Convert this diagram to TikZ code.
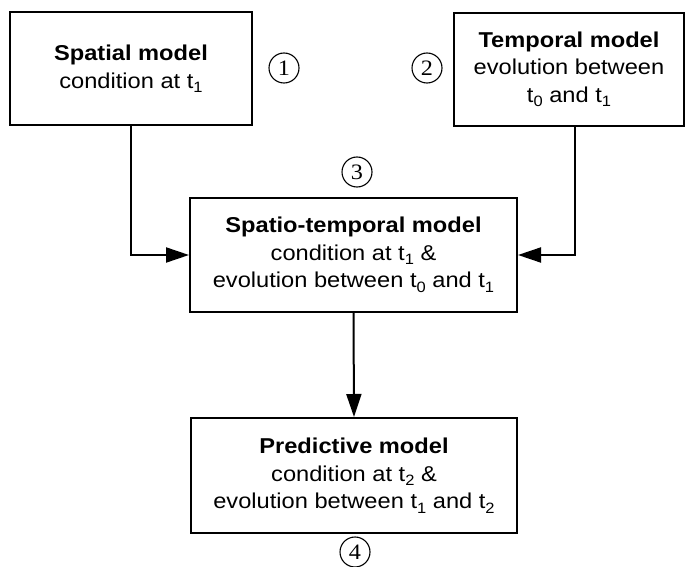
\documentclass[tikz,border=0pt]{standalone}
\usepackage{fontspec}
\setmainfont{Liberation Sans}[FakeStretch=1.1]
\newfontfamily\numfont{Liberation Serif}[FakeStretch=1.1]
\usetikzlibrary{arrows.meta}
\newcommand\tsub[1]{\raisebox{-4.5pt}{\fontsize{15}{15}\selectfont #1}}
\begin{document}
\begin{tikzpicture}[x=1pt,y=-1pt,
  modelbox/.style={draw=black,line width=2pt,align=center,inner sep=0pt,
    font=\fontsize{21.5}{27.5}\selectfont},
  numcirc/.style={draw=black,circle,line width=1.1pt,minimum size=30pt,inner sep=0pt,
    font=\numfont\fontsize{22}{22}\selectfont},
  conn/.style={line width=2pt,-{Triangle[length=23pt,width=15pt]}}]
\useasboundingbox (0,0) rectangle (686,567);
\node[modelbox,minimum width=242pt,minimum height=113pt] (spatial) at (131,69)
  {\textbf{Spatial model}\\condition at t\tsub{1}};
\node[modelbox,minimum width=230pt,minimum height=113pt] (temporal) at (569,69.5)
  {\textbf{Temporal model}\\evolution between\\t\tsub{0} and t\tsub{1}};
\node[modelbox,minimum width=327pt,minimum height=114pt] (st) at (353.5,255)
  {\textbf{Spatio-temporal model}\\condition at t\tsub{1} \&\\evolution between t\tsub{0} and t\tsub{1}};
\node[modelbox,minimum width=326pt,minimum height=115pt] (pred) at (354,475.5)
  {\textbf{Predictive model}\\condition at t\tsub{2} \&\\evolution between t\tsub{1} and t\tsub{2}};
\node[numcirc] (n1) at (284,68) {1};
\node[numcirc] (n2) at (427,68) {2};
\node[numcirc] (n3) at (357,172) {3};
\node[numcirc] (n4) at (355,552) {4};
\draw[conn] (spatial.south) |- (st.west);
\draw[conn] ([xshift=6pt]temporal.south) |- (st.east);
\draw[conn] (st.south) -- (pred.north);
\end{tikzpicture}
\end{document}
